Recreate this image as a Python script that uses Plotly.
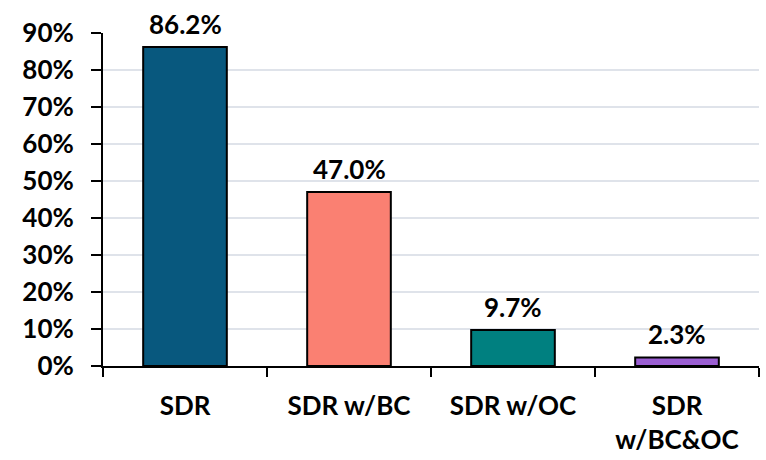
import plotly.graph_objects as go

categorias = ["SDR", "SDR w/BC", "SDR w/OC", "SDR<br>w/BC&OC"]
valores = [86.2, 47.0, 9.7, 2.3]
cores = ["#08587E", "#FA8072", "#008080", "#9B5FD3"]
ticks_y = [0, 10, 20, 30, 40, 50, 60, 70, 80, 90]
rotulos_y = [f"{v}%" for v in ticks_y]

fonte = dict(family="Lato", size=26, color="black", weight="bold")

figura = go.Figure()

figura.add_trace(go.Bar(
    x=categorias,
    y=valores,
    marker=dict(color=cores, line=dict(color="black", width=2)),
    width=0.51,
    hoverinfo="x+y",
))

# rótulos de valor acima das barras
for cat, v in zip(categorias, valores):
    figura.add_annotation(
        x=cat, y=v,
        text=f"{v:.1f}%",
        showarrow=False,
        yanchor="bottom",
        yshift=5,
        font=fonte,
    )

figura.update_layout(
    width=766,
    height=460,
    margin=dict(l=103, r=7, t=33, b=94, autoexpand=False),
    plot_bgcolor="white",
    paper_bgcolor="white",
    font=fonte,
    showlegend=False,
    xaxis=dict(
        type="category",
        automargin=False,
        showline=True,
        linecolor="black",
        linewidth=2,
        ticks="outside",
        tickson="boundaries",
        ticklen=9,
        tickwidth=2,
        tickcolor="black",
        ticklabelstandoff=16,
        showgrid=False,
    ),
    yaxis=dict(
        range=[0, 90],
        automargin=False,
        tickvals=ticks_y,
        ticktext=rotulos_y,
        showline=True,
        linecolor="black",
        linewidth=2,
        ticks="outside",
        ticklen=10,
        tickwidth=2,
        tickcolor="black",
        ticklabelstandoff=12,
        showgrid=True,
        gridcolor="#DFE3EA",
        gridwidth=2,
        zeroline=False,
    ),
)

# tira a margem padrão do body para a figura ocupar a janela inteira
figura.write_html(
    "out.html",
    config={"displayModeBar": False},
    post_script="document.body.style.margin='0';",
)
